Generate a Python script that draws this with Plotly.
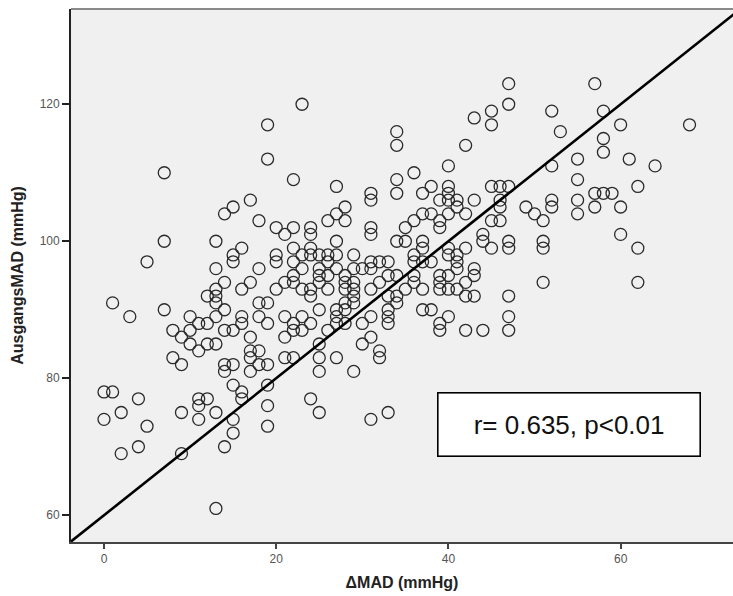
import plotly.graph_objects as go

# Change in mean arterial pressure (x) against baseline MAP (y), mmHg
delta_mad = [
    0, 0,
    1, 1,
    2, 2,
    3,
    4, 4,
    5, 5,
    7, 7, 7,
    8, 8,
    9, 9, 9, 9,
    10, 10, 10,
    11, 11, 11, 11, 11,
    12, 12, 12, 12,
    13, 13, 13, 13, 13, 13, 13, 13, 13,
    14, 14, 14, 14, 14, 14, 14,
    15, 15, 15, 15, 15, 15, 15, 15,
    16, 16, 16, 16, 16, 16,
    17, 17, 17, 17, 17, 17,
    18, 18, 18, 18, 18, 18,
    19, 19, 19, 19, 19, 19, 19, 19,
    20, 20, 20, 20,
    21, 21, 21, 21, 21,
    22, 22, 22, 22, 22, 22, 22, 22, 22,
    23, 23, 23, 23, 23, 23,
    24, 24, 24, 24, 24, 24, 24, 24,
    25, 25, 25, 25, 25, 25, 25, 25, 25,
    26, 26, 26, 26, 26, 26,
    27, 27, 27, 27, 27, 27, 27, 27, 27,
    28, 28, 28, 28, 28, 28, 28, 28,
    29, 29, 29, 29, 29, 29, 29,
    30, 30, 30,
    31, 31, 31, 31, 31, 31, 31, 31, 31, 31,
    32, 32, 32, 32,
    33, 33, 33, 33, 33, 33, 33,
    34, 34, 34, 34, 34, 34, 34, 34,
    35, 35, 35,
    36, 36, 36, 36, 36, 36,
    37, 37, 37, 37, 37, 37, 37,
    38, 38, 38, 38,
    39, 39, 39, 39, 39, 39, 39, 39,
    40, 40, 40, 40, 40, 40, 40, 40, 40, 40,
    41, 41, 41, 41, 41, 41,
    42, 42, 42, 42, 42, 42,
    43, 43, 43, 43, 43,
    44, 44, 44,
    45, 45, 45, 45, 45,
    46, 46, 46, 46,
    47, 47, 47, 47, 47, 47, 47, 47,
    49,
    50,
    51, 51, 51, 51,
    52, 52, 52, 52,
    53,
    55, 55, 55, 55,
    57, 57, 57,
    58, 58, 58, 58,
    59,
    60, 60, 60,
    61,
    62, 62, 62,
    64,
    68,
]

ausgangs_mad = [
    78, 74,
    78, 91,
    75, 69,
    89,
    77, 70,
    97, 73,
    110, 100, 90,
    87, 83,
    86, 82, 75, 69,
    89, 87, 85,
    88, 84, 77, 76, 74,
    92, 88, 85, 77,
    100, 96, 93, 92, 91, 89, 85, 75, 61,
    104, 94, 90, 87, 82, 81, 70,
    105, 98, 97, 87, 82, 79, 74, 72,
    99, 93, 89, 88, 78, 77,
    106, 94, 86, 84, 83, 81,
    103, 96, 91, 89, 84, 82,
    117, 112, 91, 88, 82, 79, 76, 73,
    102, 98, 97, 93,
    101, 94, 89, 86, 83,
    109, 102, 99, 97, 95, 94, 88, 87, 83,
    120, 98, 96, 93, 89, 87,
    102, 101, 99, 98, 93, 92, 88, 77,
    98, 96, 95, 94, 90, 85, 83, 81, 75,
    103, 98, 97, 95, 93, 87,
    108, 104, 100, 98, 96, 90, 89, 88, 83,
    105, 103, 95, 94, 93, 91, 90, 88,
    98, 96, 94, 93, 92, 91, 81,
    96, 88, 85,
    107, 106, 102, 101, 97, 96, 93, 89, 86, 74,
    97, 94, 84, 83,
    97, 95, 92, 90, 89, 88, 75,
    116, 114, 109, 107, 100, 95, 92, 91,
    102, 100, 93,
    110, 103, 98, 97, 95, 94,
    107, 104, 100, 99, 97, 93, 90,
    108, 104, 97, 90,
    106, 103, 102, 95, 94, 93, 88, 87,
    111, 108, 107, 106, 104, 99, 98, 95, 93, 89,
    106, 105, 98, 97, 96, 93,
    114, 104, 99, 94, 92, 87,
    118, 106, 96, 95, 92,
    101, 100, 87,
    119, 117, 108, 103, 99,
    108, 106, 105, 103,
    123, 120, 108, 100, 99, 92, 89, 87,
    105,
    104,
    103, 100, 99, 94,
    119, 111, 106, 105,
    116,
    112, 109, 106, 104,
    123, 107, 105,
    119, 115, 113, 107,
    107,
    117, 105, 101,
    112,
    108, 99, 94,
    111,
    117,
]

x_ticks = [0, 20, 40, 60]
y_ticks = [60, 80, 100, 120]
x_range = [-3.83, 73.05]
y_range = [56.1, 133.9]

# Reference line y = x + 60
ref_slope = 1.0
ref_intercept = 60.0
ref_x = [x_range[0], x_range[1] + 5]
ref_y = [ref_intercept + ref_slope * v for v in ref_x]

stat_text = "r= 0.635, p<0.01"

fig = go.Figure()

fig.add_trace(go.Scatter(
    x=delta_mad, y=ausgangs_mad, mode="markers",
    marker=dict(symbol="circle-open", size=12, color="#2a2a2a",
                line=dict(width=1.3, color="#2a2a2a")),
    showlegend=False, hoverinfo="x+y",
))

fig.add_trace(go.Scatter(
    x=ref_x, y=ref_y, mode="lines",
    line=dict(color="#000000", width=2.6),
    showlegend=False, hoverinfo="skip",
))

axis_common = dict(
    showgrid=False, zeroline=False, showline=True,
    ticks="outside", tickwidth=1.5,
    tickfont=dict(family="Liberation Sans, Arial, sans-serif", size=12, color="#555555"),
)

fig.update_layout(
    width=733, height=596,
    margin=dict(l=71, r=0, t=9, b=54),
    paper_bgcolor="white",
    plot_bgcolor="#f0f0f0",
    font=dict(family="Liberation Sans, Arial, sans-serif"),
    xaxis=dict(
        **axis_common,
        range=x_range, tickvals=x_ticks, ticklen=5,
        linecolor="#444444", linewidth=1.6, tickcolor="#444444",
        title=dict(text="ΔMAD (mmHg)", standoff=12,
                   font=dict(size=16, color="#222222", weight="bold")),
    ),
    yaxis=dict(
        **axis_common,
        range=y_range, tickvals=y_ticks, ticklen=7,
        linecolor="#222222", linewidth=1.8, tickcolor="#222222",
        title=dict(text="AusgangsMAD (mmHg)", standoff=12,
                   font=dict(size=16, color="#222222", weight="bold")),
    ),
    shapes=[dict(type="line", xref="paper", yref="paper",
                 x0=0, x1=1, y0=1, y1=1,
                 line=dict(color="#8a8a8a", width=2))],
    annotations=[dict(
        x=54.0, y=73.3, xref="x", yref="y",
        text=stat_text, showarrow=False,
        font=dict(family="Liberation Sans, Arial, sans-serif", size=26, color="#111111"),
        bgcolor="white", bordercolor="#000000", borderwidth=1.6,
        width=259, height=60, borderpad=1, valign="middle",
    )],
)

fig.write_html("out.html")
